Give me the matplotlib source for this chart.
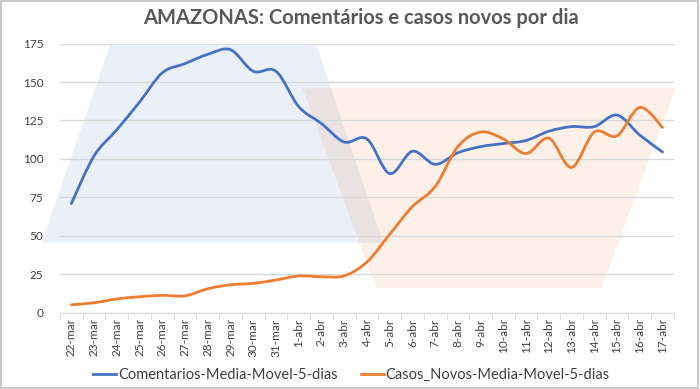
import matplotlib
matplotlib.use("Agg")
import matplotlib.pyplot as plt
from matplotlib.path import Path
from matplotlib.patches import PathPatch, Polygon, Rectangle
from matplotlib.lines import Line2D

plt.rcParams["font.family"] = ["Lato", "DejaVu Sans"]

# dados
datas = ["22-mar", "23-mar", "24-mar", "25-mar", "26-mar", "27-mar", "28-mar",
         "29-mar", "30-mar", "31-mar", "1-abr", "2-abr", "3-abr", "4-abr",
         "5-abr", "6-abr", "7-abr", "8-abr", "9-abr", "10-abr", "11-abr",
         "12-abr", "13-abr", "14-abr", "15-abr", "16-abr", "17-abr"]
comentarios = [71, 102, 119, 137, 156, 162, 168, 171, 157, 157, 134, 123, 111,
               113, 90.5, 105, 96.5, 104, 108, 110, 112, 118, 121, 121,
               128.5, 115.5, 104.5]
casos_novos = [5.2, 6.5, 9, 10.4, 11.3, 11, 15.6, 18.2, 19.1, 21.3, 23.9, 23.4,
               24, 33, 51, 69, 82, 108, 117.5, 113, 103.5, 113.5, 94.5, 117.5,
               115, 133.5, 120.5]

AZUL = "#4472C4"
LARANJA = "#ED7D31"


def curva_suave(xs, ys):
    # linha suavizada tipo Excel (bezier cúbica, tangentes catmull-rom)
    n = len(xs)
    verts = [(xs[0], ys[0])]
    codes = [Path.MOVETO]
    for i in range(n - 1):
        x0, y0 = xs[max(i - 1, 0)], ys[max(i - 1, 0)]
        x1, y1 = xs[i], ys[i]
        x2, y2 = xs[i + 1], ys[i + 1]
        x3, y3 = xs[min(i + 2, n - 1)], ys[min(i + 2, n - 1)]
        verts += [(x1 + (x2 - x0) / 6, y1 + (y2 - y0) / 6),
                  (x2 - (x3 - x1) / 6, y2 - (y3 - y1) / 6),
                  (x2, y2)]
        codes += [Path.CURVE4] * 3
    return Path(verts, codes)


fig = plt.figure(figsize=(7, 3.89), dpi=100)
ax = fig.add_axes([0.0857, 0.196, 0.877, 0.692])

# trapézios decorativos ao fundo (coordenadas do eixo)
ax.add_patch(Polygon([(-0.030, 0.26), (0.0814, 0.992), (0.418, 0.992), (0.5266, 0.26)],
                     closed=True, transform=ax.transAxes, facecolor=AZUL,
                     alpha=0.11, edgecolor="none", clip_on=False, zorder=0))
ax.add_patch(Polygon([(0.515, 0.091), (0.395, 0.834), (1.003, 0.834), (0.882, 0.091)],
                     closed=True, transform=ax.transAxes, facecolor=LARANJA,
                     alpha=0.11, edgecolor="none", clip_on=False, zorder=0))

xs = list(range(len(datas)))
ax.add_patch(PathPatch(curva_suave(xs, comentarios), facecolor="none",
                       edgecolor=AZUL, lw=2.0, capstyle="round", zorder=3))
ax.add_patch(PathPatch(curva_suave(xs, casos_novos), facecolor="none",
                       edgecolor=LARANJA, lw=2.0, capstyle="round", zorder=3))

ax.set_xlim(-0.5, len(datas) - 0.5)
ax.set_ylim(0, 175)
ax.set_yticks(range(0, 176, 25))
ax.grid(axis="y", color="#D9D9D9", lw=1, zorder=1)
ax.set_axisbelow(True)
ax.set_xticks(xs)
ax.set_xticklabels(datas, rotation=90, fontsize=8.5, color="#404040")
ax.set_xticks([i + 0.5 for i in range(-1, len(datas))], minor=True)
ax.tick_params(axis="x", which="major", length=0, pad=4)
ax.tick_params(axis="x", which="minor", length=5, color="#D9D9D9", direction="out")
ax.tick_params(axis="y", length=0, labelsize=8.5, labelcolor="#404040", pad=12)
for s in ["top", "right", "left"]:
    ax.spines[s].set_visible(False)
ax.spines["bottom"].set_color("#D9D9D9")
ax.patch.set_alpha(0)

fig.text(0.515, 0.955, "AMAZONAS: Comentários e casos novos por dia",
         ha="center", va="center", fontsize=14.5, fontweight="bold", color="#595959")

handles = [Line2D([], [], color=AZUL, lw=2.0), Line2D([], [], color=LARANJA, lw=2.0)]
fig.legend(handles, ["Comentarios-Media-Movel-5-dias", "Casos_Novos-Media-Movel-5-dias"],
           loc="center", bbox_to_anchor=(0.502, 0.036), ncol=2, frameon=False,
           fontsize=10.5, handlelength=1.6, handletextpad=0.1, columnspacing=1.6,
           labelcolor="#404040")

fig.add_artist(Rectangle((0.001, 0.002), 0.996, 0.996, transform=fig.transFigure,
                         facecolor="none", edgecolor="#BFBFBF", lw=1.2))

fig.savefig("out.png", dpi=100)
